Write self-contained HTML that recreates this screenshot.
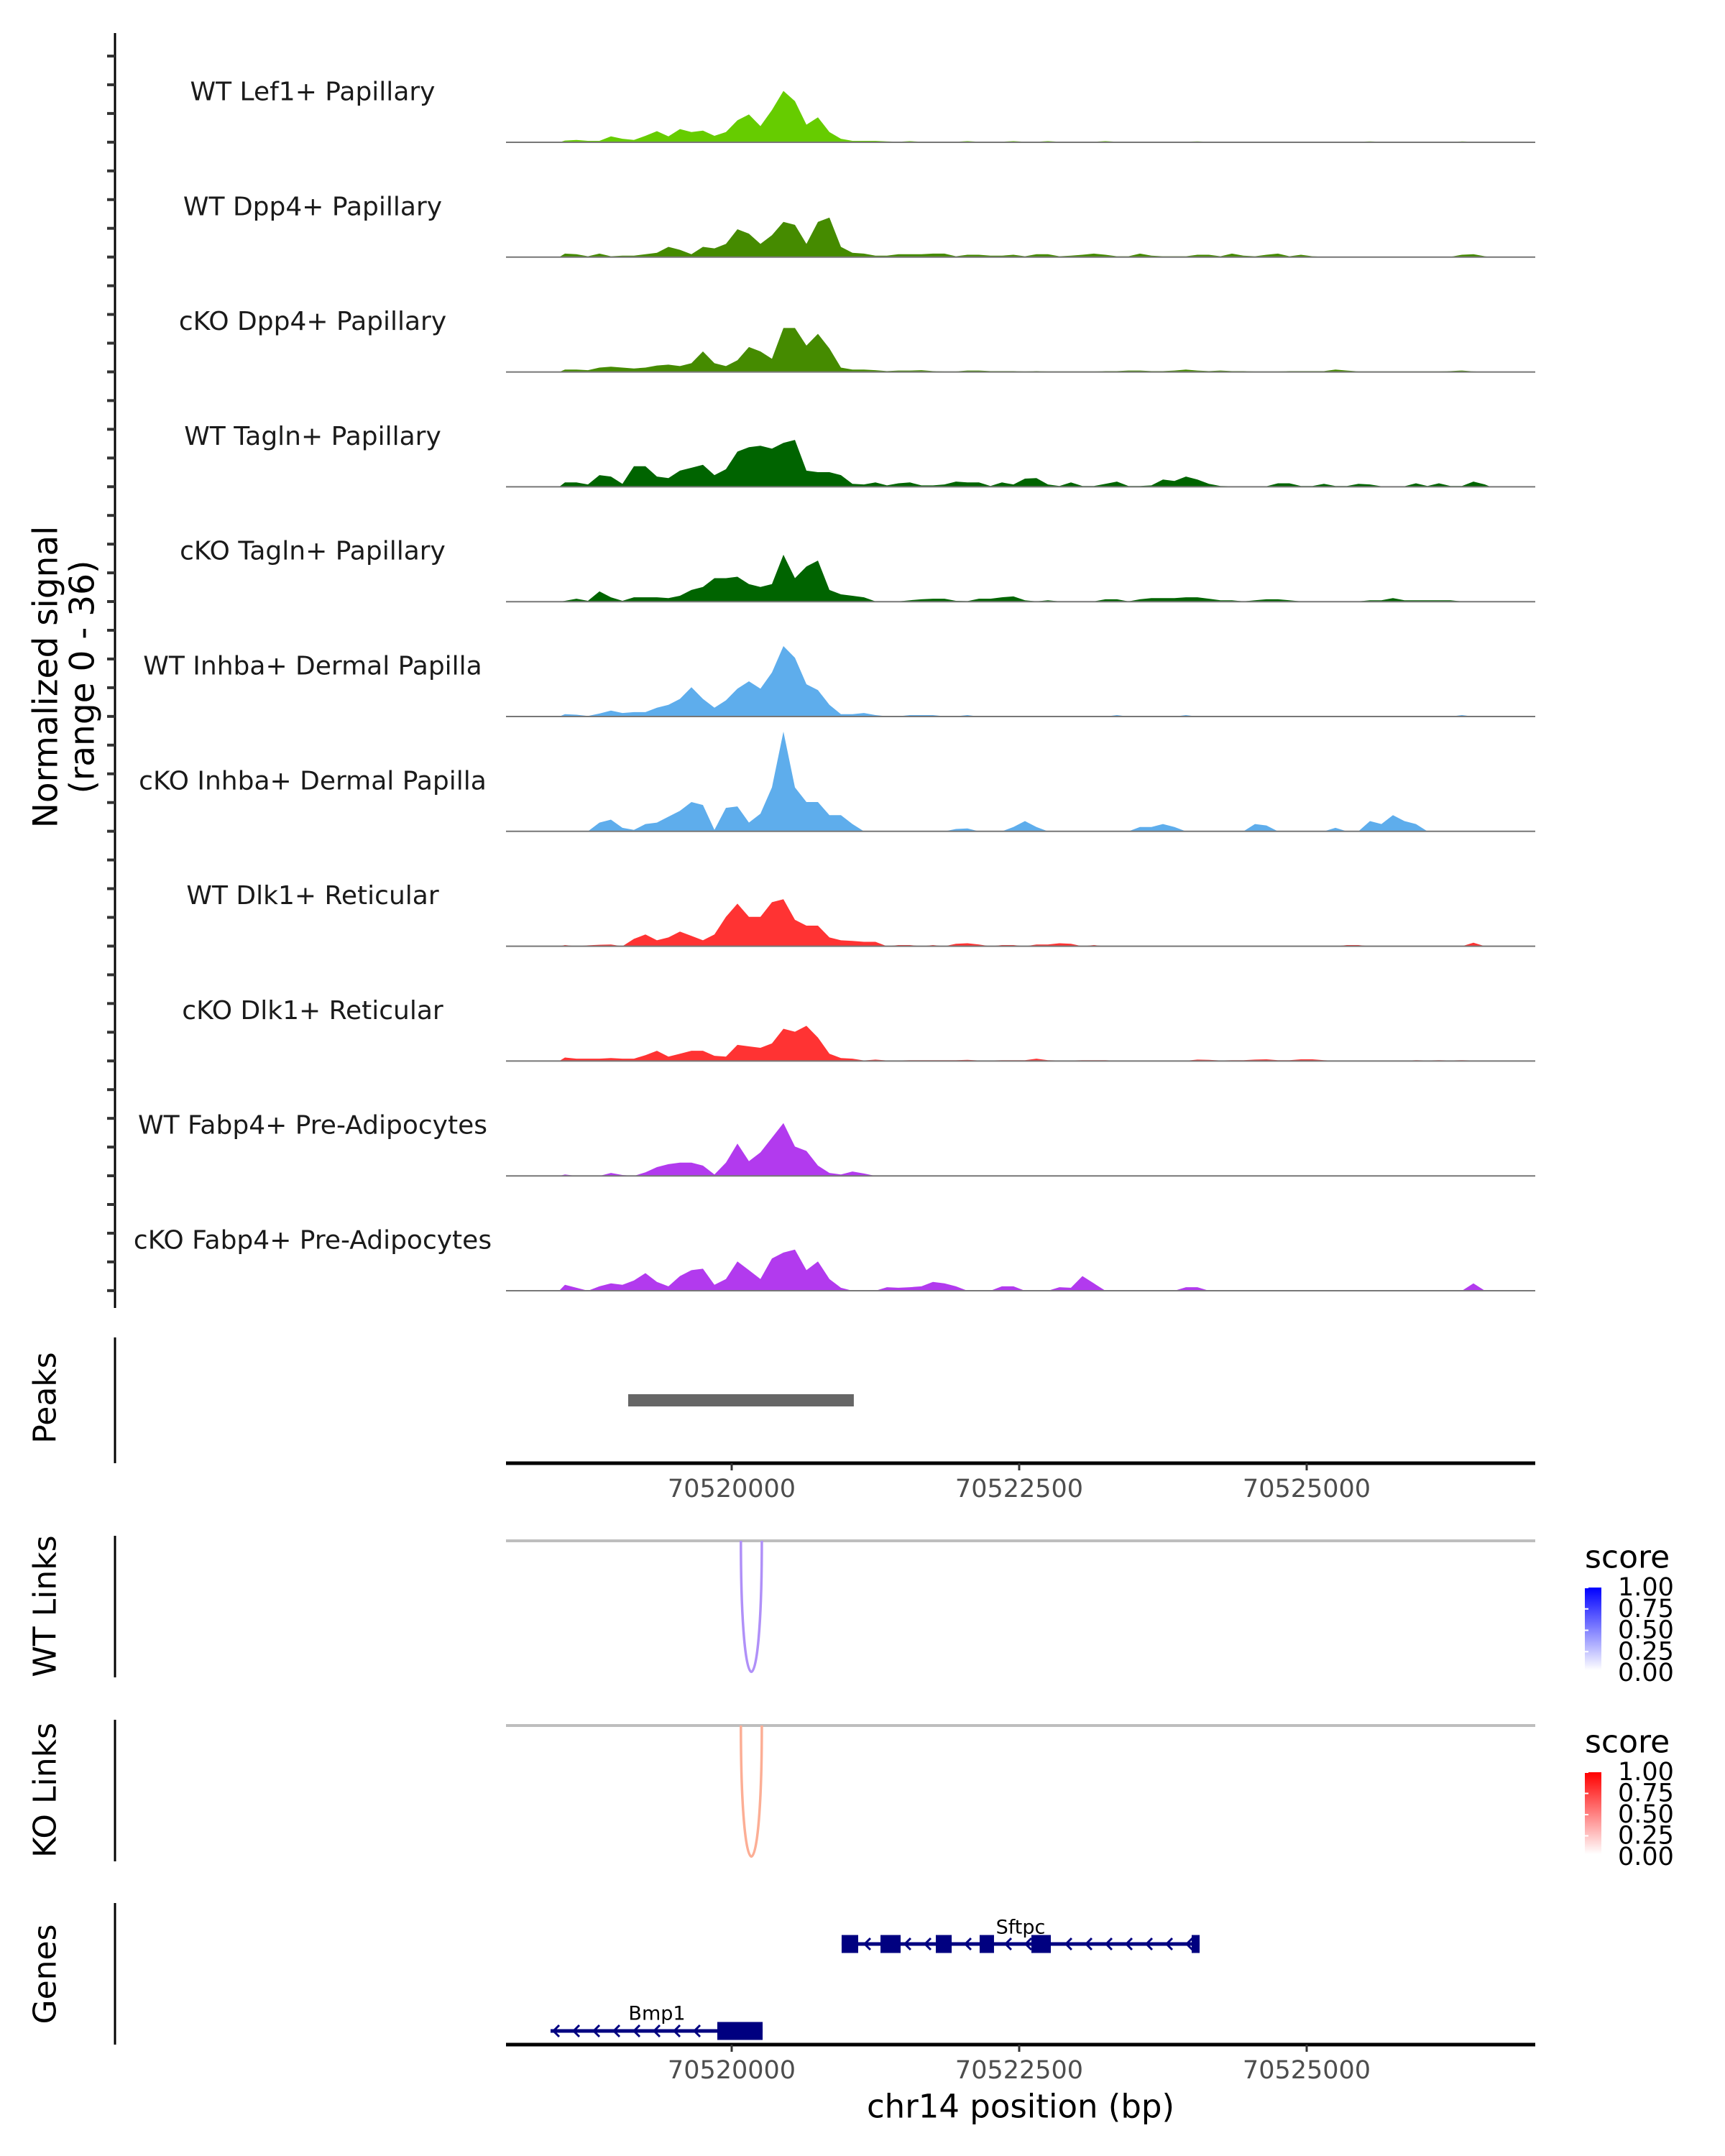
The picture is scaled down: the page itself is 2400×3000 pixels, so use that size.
<!DOCTYPE html>
<html><head><meta charset="utf-8"><title>Coverage plot</title>
<style>html,body{margin:0;padding:0;background:#fff}svg{display:block;font-family:"DejaVu Sans","Liberation Sans",sans-serif}</style>
</head><body>
<svg id="chart" width="2400" height="3000" viewBox="0 0 2400 3000" xmlns="http://www.w3.org/2000/svg"></svg>
<script>
const trackNames = ["WT Lef1+ Papillary","WT Dpp4+ Papillary","cKO Dpp4+ Papillary","WT Tagln+ Papillary","cKO Tagln+ Papillary","WT Inhba+ Dermal Papilla","cKO Inhba+ Dermal Papilla","WT Dlk1+ Reticular","cKO Dlk1+ Reticular","WT Fabp4+ Pre-Adipocytes","cKO Fabp4+ Pre-Adipocytes"];
const trackColors = ["#66CC00","#458B00","#458B00","#006400","#006400","#5EADEC","#5EADEC","#FF3333","#FF3333","#B23AEE","#B23AEE"];
const binStart = 70518500;
const binSize = 100;
const sigT1 = [0.6,0.8,0.5,0.5,2,1.2,0.8,2.2,3.8,2, 4.5,3.5,4,2.2,3.5,7.5,9.5,5.5,11,17.5, 14,6,8.5,3.5,1.2,0.5,0.5,0.5,0.3,0.2, 0.4,0.2,0.2,0.2,0.2,0.4,0.2,0.2,0.2,0.4, 0.2,0.2,0.4,0.2,0.2,0.2,0.2,0.4,0.2,0.2, 0.2,0.2,0.2,0.2,0.2,0.3,0.2,0.2,0.2,0.2, 0.2,0.2,0.2,0.2,0.2,0.2,0.2,0.2,0.2,0.2, 0.3,0.2,0.2,0.2,0.2,0.2,0.2,0.2,0.3,0.2, 0.1];
const sigT2 = [1.2,1,0.3,1.2,0.3,0.5,0.5,1,1.5,3.5, 2.5,1,3.5,3,4.5,9.5,8,4.5,7.5,12, 11,4.5,12,13.5,3.5,1.5,1.2,0.5,0.5,1, 1,1,1.2,1.2,0.3,0.8,0.8,0.5,0.5,0.8, 0.3,1,1,0.3,0.5,0.8,1.2,0.8,0.3,0.3, 1.2,0.5,0.3,0.3,0.3,0.8,0.8,0.3,1.2,0.5, 0.3,0.8,1.2,0.3,0.8,0.3,0.1,0.1,0.1,0.1, 0.1,0.1,0.1,0.1,0.1,0.1,0.1,0.1,0.8,1, 0.3];
const sigT3 = [0.8,0.8,0.6,1.5,1.8,1.5,1.2,1.5,2.2,2.5, 2,3,7,3,2,4,8.5,7,4.5,15, 15,9,13,8,1.5,0.8,0.8,0.6,0.3,0.5, 0.5,0.6,0.3,0.2,0.2,0.5,0.5,0.3,0.3,0.3, 0.2,0.3,0.2,0.2,0.2,0.2,0.2,0.3,0.3,0.5, 0.5,0.3,0.3,0.5,0.8,0.5,0.3,0.5,0.3,0.3, 0.2,0.2,0.2,0.3,0.3,0.3,0.3,0.8,0.5,0.2, 0.2,0.2,0.2,0.2,0.2,0.2,0.2,0.3,0.5,0.2, 0];
const sigT4 = [1.5,1.5,0.8,4,3.5,1,7,7,3.5,3, 5.5,6.5,7.5,4,6,12,13.5,14,13,15, 16,5.5,5,5,4,1,0.8,1.5,0.5,1.2, 1.5,0.5,0.5,0.8,1.8,1.5,1.5,0.3,1.5,0.8, 2.8,3,0.8,0.3,1.5,0.3,0.3,1,1.8,0.3, 0.3,0.5,2.5,2,3.5,2.5,1,0.3,0.2,0.2, 0.2,0.2,1.2,1.2,0.3,0.3,1,0.3,0.3,1, 0.8,0.2,0.2,0.2,1.2,0.3,1.2,0.3,0.3,1.8, 0.8];
const sigT5 = [0.3,1,0.3,3.5,1.5,0.3,1.5,1.5,1.5,1.2, 2,4,5,8,8,8.5,6,5,6,16, 8,12,14,4,2.5,2,1.5,0.1,0.1,0.1, 0.5,0.8,1,1,0.3,0.2,1,1,1.5,1.8, 0.5,0.1,0.5,0.1,0.1,0.1,0.1,0.8,0.8,0.1, 0.8,1.2,1.2,1.2,1.5,1.5,1,0.5,0.5,0.1, 0.5,0.8,0.8,0.5,0.1,0.1,0.1,0.1,0.1,0.1, 0.5,0.5,1.2,0.5,0.5,0.5,0.5,0.5,0.1,0.1, 0];
const sigT6 = [0.8,0.6,0.2,1,2,1.2,1.5,1.5,3,4, 6,10,6,3,5.5,9.5,12,9.5,15,24, 20,11,9,4,0.8,0.8,1.2,0.5,0.1,0.1, 0.5,0.5,0.5,0.1,0.1,0.5,0,0,0,0, 0,0,0,0,0,0,0,0,0.5,0, 0,0,0,0,0.5,0,0,0,0,0, 0,0,0,0,0,0,0,0,0,0, 0,0,0,0,0,0,0,0,0.5,0, 0];
const sigT7 = [0,0,0,3,4,1.2,0.5,2.5,3,5, 7,10,9,0.5,8,8.5,3,6,15,34, 15,10,10,5.5,5.5,2.5,0,0,0,0, 0,0,0,0,0.8,1,0,0,0,1.5, 3.5,1.5,0,0,0,0,0,0,0,0, 1.5,1.5,2.5,1.5,0,0,0,0,0,0, 2.5,2,0,0,0,0,0,1.2,0,0, 3.5,2.5,5.5,3.5,2.5,0,0,0,0,0, 0];
const sigT8 = [0.4,0,0.3,0.5,0.6,0,2.5,4,2,3, 5,3.5,2,4,10,14.5,10,10,15,16, 9,7,7,3,2,1.8,1.5,1.5,0,0.4, 0.4,0,0.4,0,0.8,1,0.6,0,0.4,0.4, 0,0.6,0.6,1,0.8,0,0.4,0,0,0, 0,0,0,0,0,0,0,0,0,0, 0,0,0,0,0,0,0,0,0.4,0.4, 0,0,0,0,0,0,0,0,0,1.2, 0];
const sigT9 = [1.2,0.8,0.8,0.8,1,0.8,0.8,2,3.5,1.5, 2.5,3.5,3.5,1.8,1.5,5.5,5,4.5,6,11, 10,12,8,2.5,1,0.8,0.2,0.5,0.2,0.2, 0.3,0.3,0.3,0.3,0.3,0.4,0.2,0.2,0.3,0.3, 0.3,0.8,0.3,0.2,0.2,0.3,0.3,0.3,0.1,0.1, 0.1,0.1,0.1,0.1,0.1,0.5,0.4,0.2,0.3,0.3, 0.5,0.6,0.3,0.3,0.6,0.6,0.3,0.1,0.1,0.1, 0.1,0.1,0.1,0.1,0.3,0.2,0.3,0.2,0.3,0.2, 0];
const sigT10 = [0.5,0,0,0,1,0.3,0,1.2,3,4, 4.5,4.5,3.5,0.5,4.5,11,5,8,13,18, 10,8.5,3.5,1,0.5,1.5,0.8,0,0,0, 0,0,0,0,0,0,0,0,0,0, 0,0,0,0,0,0,0,0,0,0, 0,0,0,0,0,0,0,0,0,0, 0,0,0,0,0,0,0,0,0,0, 0,0,0,0,0,0,0,0,0,0, 0];
const sigT11 = [2,1,0,1.5,2.5,2,3.5,6,3,1.5, 5,7,7.5,2,4,10,7,4,11,13, 14,7,10,4,1,0,0,0,1.2,1, 1.2,1.5,3,2.5,1.5,0,0,0,1.5,1.5, 0,0,0,1.2,1,5,2.5,0,0,0, 0,0,0,0,1.2,1.2,0,0,0,0, 0,0,0,0,0,0,0,0,0,0, 0,0,0,0,0,0,0,0,0,2.5, 0];
const signals = [sigT1,sigT2,sigT3,sigT4,sigT5,sigT6,sigT7,sigT8,sigT9,sigT10,sigT11];
const yMax = 36;
const xTicks = [70520000,70522500,70525000];
const peakStart = 70519100, peakEnd = 70521062;
const wtLink = [70520080, 70520262], wtScore = 0.35;
const koLink = [70520080, 70520262], koScore = 0.35;
const legendTicks = ["1.00","0.75","0.50","0.25","0.00"];
const sftpcExons = [[70520956,70521100],[70521294,70521469],[70521775,70521913],[70522156,70522281],[70522606,70522775],[70524000,70524069]];
const sftpcSpan = [70520956,70524069];
const bmp1Exons = [[70519875,70520269]];
const bmp1Span = [70518425,70520269];

const NS = "http://www.w3.org/2000/svg";
const svg = document.getElementById("chart");
function mk(tag, attrs, parent, text){
  const e = document.createElementNS(NS, tag);
  for (const k in attrs) e.setAttribute(k, attrs[k]);
  if (text !== undefined) e.textContent = text;
  (parent||svg).appendChild(e);
  return e;
}
const X0 = 704, X1 = 2136;
function xs(bp){ return 1018 + (bp - 70520000) * 0.16; }
const base0 = 198, trackStep = 159.8, trackH = 147;
function ys(v){ return v / yMax * trackH; }

let e = mk("line",{x1:160,y1:46,x2:160,y2:1820,stroke:"#000","stroke-width":3});


for (let y = 78; y <= 1800; y += 39.95){
  e = mk("line",{x1:149,y1:y,x2:160,y2:y,stroke:"#333","stroke-width":4});
  
  
}
e = mk("text",{x:0,y:0,transform:"translate(64,942) rotate(-90)","text-anchor":"middle","dominant-baseline":"central","font-size":47,fill:"#000"},svg,"Normalized signal");


e = mk("text",{x:0,y:0,transform:"translate(115,942) rotate(-90)","text-anchor":"middle","dominant-baseline":"central","font-size":47,fill:"#000"},svg,"(range 0 - 36)");



signals.forEach((vals, t) => {
  const base = base0 + trackStep * t;
  const g = mk("g",{});
  
  
  let d = "M" + xs(binStart).toFixed(1) + "," + base;
  vals.forEach((v, i) => {
    const cx = xs(binStart + binSize * i + binSize / 2);
    d += " L" + cx.toFixed(1) + "," + (base - ys(v)).toFixed(1);
  });
  d += " L" + xs(binStart + binSize * vals.length).toFixed(1) + "," + base + " Z";
  e = mk("path",{d:d,fill:trackColors[t]},g);
  
  
  e = mk("line",{x1:X0,y1:base,x2:X1,y2:base,stroke:"#777","stroke-width":2},g);
  
  
  e = mk("text",{x:435,y:base-70,"text-anchor":"middle","dominant-baseline":"central","font-size":36,fill:"#1a1a1a"},g,trackNames[t]);
  
  
});

function panelLabel(txt, cy, y1, y2, name){
  let l = mk("line",{x1:160,y1:y1,x2:160,y2:y2,stroke:"#000","stroke-width":3});
  
  
  let t = mk("text",{x:0,y:0,transform:"translate(63,"+cy+") rotate(-90)","text-anchor":"middle","dominant-baseline":"central","font-size":44,fill:"#000"},svg,txt);
  
  
}
panelLabel("Peaks",1945,1861,2036,"peaks");
panelLabel("WT Links",2235,2137,2334,"wt-links");
panelLabel("KO Links",2491,2393,2590,"ko-links");
panelLabel("Genes",2747,2648,2845,"genes");

e = mk("rect",{x:xs(peakStart),y:1940,width:xs(peakEnd)-xs(peakStart),height:17,fill:"#666"});



function xAxis(y, name){
  let a = mk("line",{x1:X0,y1:y,x2:X1,y2:y,stroke:"#000","stroke-width":5});
  
  
  xTicks.forEach(tk => {
    let t = mk("line",{x1:xs(tk),y1:y,x2:xs(tk),y2:y+10,stroke:"#333","stroke-width":3});
    
    
    let l = mk("text",{x:xs(tk),y:y+36,"text-anchor":"middle","dominant-baseline":"central","font-size":35,fill:"#4d4d4d"},svg,String(tk));
    
    
  });
}
xAxis(2036,"peaks-x-axis");
xAxis(2845,"genes-x-axis");
e = mk("text",{x:1420,y:2931,"text-anchor":"middle","dominant-baseline":"central","font-size":45,fill:"#000"},svg,"chr14 position (bp)");



function linkPanel(topY, link, score, color, name){
  let l = mk("line",{x1:X0,y1:topY,x2:X1,y2:topY,stroke:"#bebebe","stroke-width":4});
  
  
  const a = xs(link[0]), b = xs(link[1]), c = topY + 243;
  let p = mk("path",{d:"M"+a+","+topY+" C"+a+","+c+" "+b+","+c+" "+b+","+topY,fill:"none",stroke:color,"stroke-width":3.5});
  
  
}
linkPanel(2144, wtLink, wtScore, "#B090F8", "wt-link");
linkPanel(2401, koLink, koScore, "#FCAE95", "ko-link");

function legend(titleY, barTop, barBot, col, name){
  const id = "grad-" + name;
  const defs = mk("defs",{});
  const lg = mk("linearGradient",{id:id,x1:0,y1:1,x2:0,y2:0},defs);
  mk("stop",{offset:"0",  "stop-color":"#ffffff"},lg);
  mk("stop",{offset:"1","stop-color":col},lg);
  let t = mk("text",{x:2205,y:titleY,"dominant-baseline":"central","font-size":44,fill:"#000"},svg,"score");
  
  
  let r = mk("rect",{x:2205,y:barTop,width:23,height:barBot-barTop,fill:"url(#"+id+")"});
  
  
  const step = (barBot + 4 - barTop) / 4;
  legendTicks.forEach((lab, k) => {
    const y = barTop + step * k;
    let tl = mk("line",{x1:2205,y1:y,x2:2210,y2:y,stroke:"#fff","stroke-width":2});
    
    
    let tx = mk("text",{x:2251,y:y,"dominant-baseline":"central","font-size":35,fill:"#000"},svg,lab);
    
    
  });
}
legend(2167, 2209, 2324, "#0000FF", "wt");
legend(2424, 2466, 2580, "#FF0000", "ko");

function gene(name, span, exons, y, labelX, labelY){
  const g = mk("g",{});
  
  
  let l = mk("line",{x1:xs(span[0]),y1:y,x2:xs(span[1]),y2:y,stroke:"#000080","stroke-width":5},g);
  
  
  for (let x = xs(span[0]) + 4; x < xs(span[1]) - 10; x += 28){
    const inside = exons.some(ex => x > xs(ex[0]) - 6 && x < xs(ex[1]) + 2);
    if (inside) continue;
    let c = mk("path",{d:"M"+(x+8)+","+(y-8)+" L"+x+","+y+" L"+(x+8)+","+(y+8),fill:"none",stroke:"#000080","stroke-width":3},g);
    
    
  }
  exons.forEach(ex => {
    let r = mk("rect",{x:xs(ex[0]),y:y-12.5,width:xs(ex[1])-xs(ex[0]),height:25,fill:"#000080"},g);
    
    
  });
  let t = mk("text",{x:labelX,y:labelY,"text-anchor":"middle","dominant-baseline":"central","font-size":27,fill:"#000"},g,name);
  
  
}
gene("Sftpc", sftpcSpan, sftpcExons, 2705, 1420, 2682);
gene("Bmp1", bmp1Span, bmp1Exons, 2826, 914, 2802);
</script>
</body></html>
